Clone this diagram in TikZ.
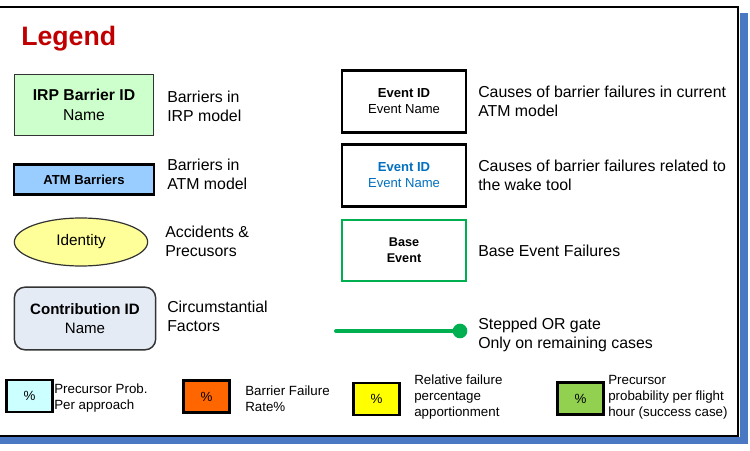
\documentclass[tikz,border=0pt]{standalone}
\usepackage{fontspec}
\setmainfont{Liberation Sans}
\usetikzlibrary{shapes.geometric}
\definecolor{frameblue}{HTML}{4A78C2}
\definecolor{irpgreen}{HTML}{CCFFCC}
\definecolor{atmblue}{HTML}{99CCFF}
\definecolor{idyellow}{HTML}{FFFF99}
\definecolor{contrib}{HTML}{E4EBF5}
\definecolor{ggreen}{HTML}{00B050}
\definecolor{tred}{HTML}{C00000}
\definecolor{tblue}{HTML}{0070C0}
\definecolor{pcyan}{HTML}{CCFFFF}
\definecolor{porange}{HTML}{FF6600}
\definecolor{pyellow}{HTML}{FFFF00}
\definecolor{plgreen}{HTML}{92D050}
\definecolor{edgegray}{HTML}{333333}
\tikzset{
  desc/.style={font=\fontsize{11.9}{14.3}\selectfont, align=left, anchor=west, inner sep=0pt},
  sdesc/.style={font=\fontsize{10}{12}\selectfont, align=left, anchor=west, inner sep=0pt},
  thinbox/.style={draw=edgegray, line width=1.1pt, inner sep=0pt, align=center},
  thickbox/.style={draw=black, line width=2.2pt, inner sep=0pt, align=center},
  pctbox/.style={thickbox, minimum width=35pt, minimum height=24pt, font=\fontsize{10}{12}\selectfont},
  evbox/.style={thickbox, minimum width=93pt, minimum height=46pt, fill=white, font=\fontsize{9.8}{12}\selectfont},
}
\begin{document}
\begin{tikzpicture}[x=0.75pt,y=-0.75pt]
\useasboundingbox (0,0) rectangle (750,450);
% frame
\fill[frameblue] (740,13) rectangle (748,444);
\fill[frameblue] (0,437) rectangle (748,444);
\draw[line width=1pt] (0,7) -- (738,7) -- (738,436) -- (0,436);
% title
\node[anchor=west, inner sep=0pt, text=tred, font=\fontsize{20}{24}\selectfont\bfseries] (title) at (21,39) {Legend};
% left column
\node[thinbox, fill=irpgreen, minimum width=104pt, minimum height=46pt, font=\fontsize{11.8}{14.5}\selectfont] (irp) at (84,105) {\textbf{IRP Barrier ID}\\Name};
\node[desc] (irpd) at (167,106) {Barriers in\\IRP model};
\node[thickbox, fill=atmblue, minimum width=105pt, minimum height=22pt, font=\fontsize{9.8}{12}\selectfont\bfseries] (atm) at (84,179.5) {ATM Barriers};
\node[desc] (atmd) at (167,174.5) {Barriers in\\ATM model};
\node[ellipse, draw=edgegray, line width=0.9pt, fill=idyellow, minimum width=100pt, minimum height=36pt, inner sep=0pt, font=\fontsize{11.5}{14}\selectfont] (ident) at (81,242) {Identity};
\node[desc] (identd) at (165,241.5) {Accidents \&\\Precusors};
\node[thinbox, fill=contrib, rounded corners=8pt, minimum width=106pt, minimum height=47pt, font=\fontsize{11.3}{14.5}\selectfont] (contr) at (85,318.5) {\textbf{Contribution ID}\\Name};
\node[desc] (contrd) at (167,316) {Circumstantial\\Factors};
% right column
\node[evbox] (ev1) at (404,101.5) {\textbf{Event ID}\\Event Name};
\node[desc] (ev1d) at (478,101.5) {Causes of barrier failures in current\\ATM model};
\node[evbox, text=tblue] (ev2) at (404,175.5) {\textbf{Event ID}\\Event Name};
\node[desc] (ev2d) at (478,175.5) {Causes of barrier failures related to\\the wake tool};
\node[evbox, draw=ggreen, line width=1.8pt, font=\fontsize{9.5}{12}\selectfont\bfseries] (base) at (404,250.5) {Base\\Event};
\node[desc] (based) at (478,250.5) {Base Event Failures};
\coordinate (gs) at (336,331);
\coordinate (gm) at (408,331);
\node[circle, fill=ggreen, minimum size=11pt, inner sep=0pt] (dot) at (460,331) {};
\draw[ggreen, line width=3pt, line cap=round] (gs) -- (gm);
\draw[ggreen, line width=2.3pt] (gm) -- (dot.center);
\node[desc] (gated) at (478,335) {Stepped OR gate\\Only on remaining cases};
% bottom row
\node[pctbox, fill=pcyan] (p1) at (29.5,396) {\%};
\node[sdesc] (p1d) at (54,398.5) {Precursor Prob.\\Per approach};
\node[pctbox, fill=porange] (p2) at (206.5,396.5) {\%};
\node[sdesc] (p2d) at (245,398.5) {Barrier Failure\\Rate\%};
\node[pctbox, fill=pyellow] (p3) at (376.5,399) {\%};
\node[sdesc] (p3d) at (414,397) {Relative failure\\percentage\\apportionment};
\node[pctbox, fill=plgreen] (p4) at (580.5,398.5) {\%};
\node[sdesc] (p4d) at (608,397) {Precursor\\probability per flight\\hour (success case)};
\end{tikzpicture}
\end{document}
